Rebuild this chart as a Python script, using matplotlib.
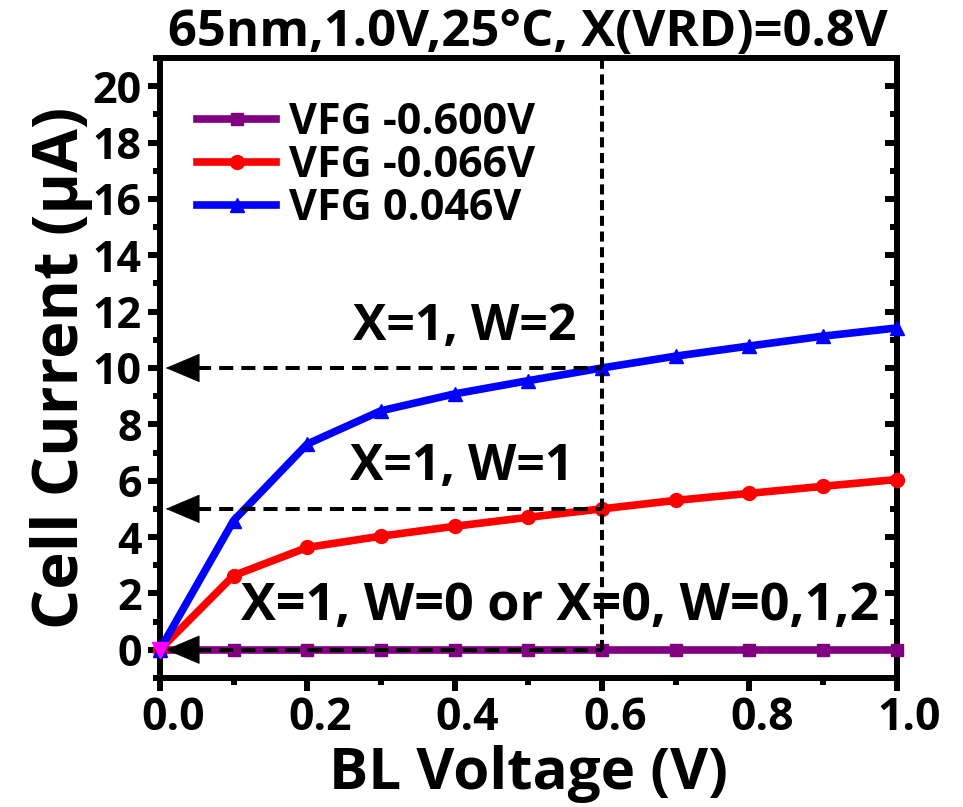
import matplotlib
matplotlib.use("Agg")
import matplotlib.pyplot as plt
from matplotlib.ticker import MultipleLocator
from matplotlib.patches import FancyArrowPatch
from matplotlib.transforms import ScaledTranslation

plt.rcParams['font.family'] = ['Open Sans', 'DejaVu Sans']
plt.rcParams['font.weight'] = 'bold'

bl_voltage = [0.0, 0.1, 0.2, 0.3, 0.4, 0.5, 0.6, 0.7, 0.8, 0.9, 1.0]
i_vfg_m0600 = [0, 0, 0, 0, 0, 0, 0, 0, 0, 0, 0]
i_vfg_m0066 = [0, 2.63, 3.63, 4.03, 4.38, 4.70, 5.0, 5.30, 5.55, 5.80, 6.04]
i_vfg_p0046 = [0, 4.58, 7.30, 8.48, 9.08, 9.55, 10.0, 10.42, 10.78, 11.13, 11.42]
labels = ["VFG -0.600V", "VFG -0.066V", "VFG 0.046V"]
read_voltage = 0.6
levels = [10, 5, 0]
level_texts = ["X=1, W=2", "X=1, W=1", "X=1, W=0 or X=0, W=0,1,2"]
x_ticks = [0, 0.2, 0.4, 0.6, 0.8, 1.0]
x_ticklabels = ['0.0', '0.2', '0.4', '0.6', '0.8', '1.0']
y_ticks = [0, 2, 4, 6, 8, 10, 12, 14, 16, 18, 20]
title = "65nm,1.0V,25\u00b0C, X(VRD)=0.8V"

fig = plt.figure(figsize=(9.63, 8.07), dpi=100)
ax = fig.add_axes([0.166, 0.160, 0.765, 0.768])
axr = ax.twinx()
ax.set_zorder(axr.get_zorder() + 1)
ax.patch.set_visible(False)

ax.plot(bl_voltage, i_vfg_m0600, color='#800080', lw=5.5, marker='s', ms=9, label=labels[0], zorder=3, clip_on=False)
ax.plot(bl_voltage, i_vfg_m0066, color='#ff0000', lw=5.5, marker='o', ms=10, label=labels[1], zorder=3, clip_on=False)
ax.plot(bl_voltage, i_vfg_p0046, color='#0000ff', lw=5.5, marker='^', ms=10, label=labels[2], zorder=3, clip_on=False)
ax.plot([bl_voltage[0]], [0], marker='v', color='#ff00ff', ms=11, ls='none', zorder=6, clip_on=False)

ax.plot([read_voltage, read_voltage], [0, 21], color='black', ls=(0, (2.5, 1.4)), lw=2.9, zorder=4)
for lv in levels:
    ax.plot([0.05, read_voltage], [lv, lv], color='black', ls=(0, (3.5, 2)), lw=2.9, zorder=4)
    arr = FancyArrowPatch((0.06, lv), (0.008, lv), arrowstyle='-|>,head_length=1.3,head_width=0.55',
                          mutation_scale=18, color='black', lw=0.5, shrinkA=0, shrinkB=0, zorder=5)
    ax.add_patch(arr)

ax.text(0.414, 11.45, level_texts[0], fontsize=36, fontweight='bold', ha='center', va='center')
ax.text(0.41, 6.5, level_texts[1], fontsize=36, fontweight='bold', ha='center', va='center')
ax.text(0.544, 1.55, level_texts[2], fontsize=37.5, fontweight='bold', ha='center', va='center')

ax.set_xlim(0, 1.0)
ax.set_ylim(-1, 21)
ax.xaxis.set_minor_locator(MultipleLocator(0.1))
ax.yaxis.set_minor_locator(MultipleLocator(1))
ax.set_xticks(x_ticks)
ax.set_xticklabels(x_ticklabels)
ax.set_yticks(y_ticks)

for s in ax.spines.values():
    s.set_linewidth(4.3)
ax.tick_params(axis='x', which='major', direction='out', length=9, width=4.3, labelsize=32, pad=4)
ax.tick_params(axis='y', which='major', direction='out', length=9, width=4.3, labelsize=31, pad=4)
ax.tick_params(axis='both', which='minor', direction='out', length=5, width=4.3)

offset = ScaledTranslation(13 / 100, 0, fig.dpi_scale_trans)
for t in ax.get_xticklabels():
    t.set_transform(t.get_transform() + offset)
    t.set_fontweight('bold')
for t in ax.get_yticklabels():
    t.set_fontweight('bold')

axr.set_ylim(ax.get_ylim())
axr.set_yticks(y_ticks)
axr.yaxis.set_minor_locator(MultipleLocator(1))
axr.tick_params(axis='y', which='major', direction='in', length=9, width=4.3, labelright=False)
axr.tick_params(axis='y', which='minor', direction='in', length=5, width=4.3)
for s in axr.spines.values():
    s.set_linewidth(4.3)

ax.set_xlabel('BL Voltage (V)', fontsize=42, fontweight='bold', labelpad=3)
ax.set_ylabel('Cell Current (\u03bcA)', fontsize=45.5, fontweight='bold', labelpad=0)
ax.set_title(title, fontsize=36.5, fontweight='bold', pad=2)

leg = ax.legend(loc='upper left', bbox_to_anchor=(0.05, 0.93), frameon=False, fontsize=31,
                handlelength=1.85, handletextpad=0.3, labelspacing=0.0, borderaxespad=0, borderpad=0)
for t in leg.get_texts():
    t.set_fontweight('bold')

fig.savefig('out.png', dpi=100)
